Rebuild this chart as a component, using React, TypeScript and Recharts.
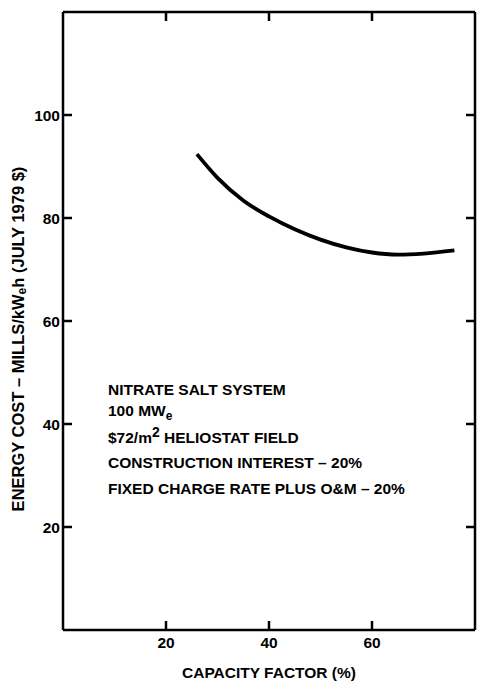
import { LineChart, Line, XAxis, YAxis, Label, ReferenceLine, Customized } from "recharts";

// capacity factor (%) and energy cost (mills/kWeh, July 1979 $)
const capacityFactor = [26, 30, 35, 40, 45, 50, 55, 60, 65, 70, 76];
const energyCost = [92.4, 87.8, 83.4, 80.3, 77.8, 75.8, 74.3, 73.3, 72.9, 73.1, 73.7];

const xTicks = [20, 40, 60];
const yTicks = [20, 40, 60, 80, 100];
const xMax = 80;
const yMax = 120;

const notes = [
  "NITRATE SALT SYSTEM",
  "100 MW",
  "$72/m",
  "CONSTRUCTION INTEREST – 20%",
  "FIXED CHARGE RATE PLUS O&M – 20%",
];

const FONT = "'Liberation Sans', Arial, Helvetica, sans-serif";
const TICK_LEN = 9;

const W = 482;
const H = 690;
const MARGIN = { top: 12, right: 7, bottom: 0, left: 0 };
const Y_AXIS_W = 63;
const X_AXIS_H = 60;
const PLOT_W = W - MARGIN.left - MARGIN.right - Y_AXIS_W;
const PLOT_H = H - MARGIN.top - MARGIN.bottom - X_AXIS_H;

// tick length in data units, so the marks go through the chart scales
const xTickLen = (xMax * TICK_LEN) / PLOT_W;
const yTickLen = (yMax * TICK_LEN) / PLOT_H;

const data = capacityFactor.map((cf, i) => ({ cf, cost: energyCost[i] }));

const axisStroke = { stroke: "#000", strokeWidth: 2.5 };

function BottomTick({ x, y, payload }: any) {
  return (
    <text x={x} y={y + 18} textAnchor="middle" fontFamily={FONT} fontSize={15.5} fontWeight={700} fill="#000">
      {payload.value}
    </text>
  );
}

function LeftTick({ x, y, payload }: any) {
  return (
    <text x={x - 3} y={y + 5.5} textAnchor="end" fontFamily={FONT} fontSize={15.5} fontWeight={700} fill="#000">
      {payload.value}
    </text>
  );
}

// rotated y label with the subscript e in kWeh
function YTitle(props: any) {
  const vb = props.viewBox || {};
  const cx = 18;
  const cy = (vb.y ?? 12) + (vb.height ?? 618) / 2 + 18;
  return (
    <text
      x={cx}
      y={cy}
      transform={`rotate(-90 ${cx} ${cy})`}
      textAnchor="middle"
      dominantBaseline="central"
      fontFamily={FONT}
      fontSize={16.5}
      fontWeight={700}
      fill="#000"
    >
      ENERGY COST – MILLS/kW
      <tspan dy={4} fontSize={12}>e</tspan>
      <tspan dy={-4}>h (JULY 1979 $)</tspan>
    </text>
  );
}

// the block of notes inside the plot
function Notes() {
  return (
    <g fontFamily={FONT} fontSize={15.5} fontWeight={700} fill="#000">
      <text x={108} y={395}>{notes[0]}</text>
      <text x={108} y={416}>
        {notes[1]}
        <tspan dy={4} fontSize={12}>e</tspan>
      </text>
      <text x={108} y={443}>
        {notes[2]}
        <tspan dy={-6} fontSize={14}>2</tspan>
        <tspan dy={6}> HELIOSTAT FIELD</tspan>
      </text>
      <text x={108} y={468}>{notes[3]}</text>
      <text x={108} y={494}>{notes[4]}</text>
    </g>
  );
}

export default function App() {
  return (
    <div style={{ position: "absolute", left: 0, top: 0, width: W, height: H, background: "#fff" }}>
      <LineChart width={W} height={H} data={data} margin={MARGIN}>
        <XAxis
          dataKey="cf"
          type="number"
          domain={[0, xMax]}
          ticks={xTicks}
          allowDataOverflow
          height={X_AXIS_H}
          tickSize={0}
          tickMargin={0}
          tick={BottomTick}
          tickLine={false}
          axisLine={axisStroke}
        >
          <Label
            value="CAPACITY FACTOR (%)"
            position="insideBottom"
            offset={12}
            style={{ fill: "#000", fontSize: 15.5, fontWeight: 700, fontFamily: FONT }}
          />
        </XAxis>
        <YAxis
          type="number"
          domain={[0, yMax]}
          ticks={yTicks}
          allowDataOverflow
          width={Y_AXIS_W}
          tickSize={0}
          tickMargin={0}
          tick={LeftTick}
          tickLine={false}
          axisLine={axisStroke}
          label={<YTitle />}
        />
        {/* top and right edges of the frame */}
        <ReferenceLine y={yMax} stroke="#000" strokeWidth={2.5} ifOverflow="extendDomain" />
        <ReferenceLine x={xMax} stroke="#000" strokeWidth={2.5} ifOverflow="extendDomain" />
        {/* inward tick marks on all four sides */}
        {xTicks.map((t) => (
          <ReferenceLine
            key={`xb${t}`}
            segment={[{ x: t, y: 0 }, { x: t, y: yTickLen }]}
            stroke="#000"
            strokeWidth={2.5}
            ifOverflow="visible"
          />
        ))}
        {xTicks.map((t) => (
          <ReferenceLine
            key={`xt${t}`}
            segment={[{ x: t, y: yMax }, { x: t, y: yMax - yTickLen }]}
            stroke="#000"
            strokeWidth={2.5}
            ifOverflow="visible"
          />
        ))}
        {yTicks.map((v) => (
          <ReferenceLine
            key={`yl${v}`}
            segment={[{ x: 0, y: v }, { x: xTickLen, y: v }]}
            stroke="#000"
            strokeWidth={2.5}
            ifOverflow="visible"
          />
        ))}
        {yTicks.map((v) => (
          <ReferenceLine
            key={`yr${v}`}
            segment={[{ x: xMax, y: v }, { x: xMax - xTickLen, y: v }]}
            stroke="#000"
            strokeWidth={2.5}
            ifOverflow="visible"
          />
        ))}
        <Line
          dataKey="cost"
          type="monotone"
          stroke="#000"
          strokeWidth={3.8}
          dot={false}
          isAnimationActive={false}
        />
        <Customized component={Notes} />
      </LineChart>
    </div>
  );
}
